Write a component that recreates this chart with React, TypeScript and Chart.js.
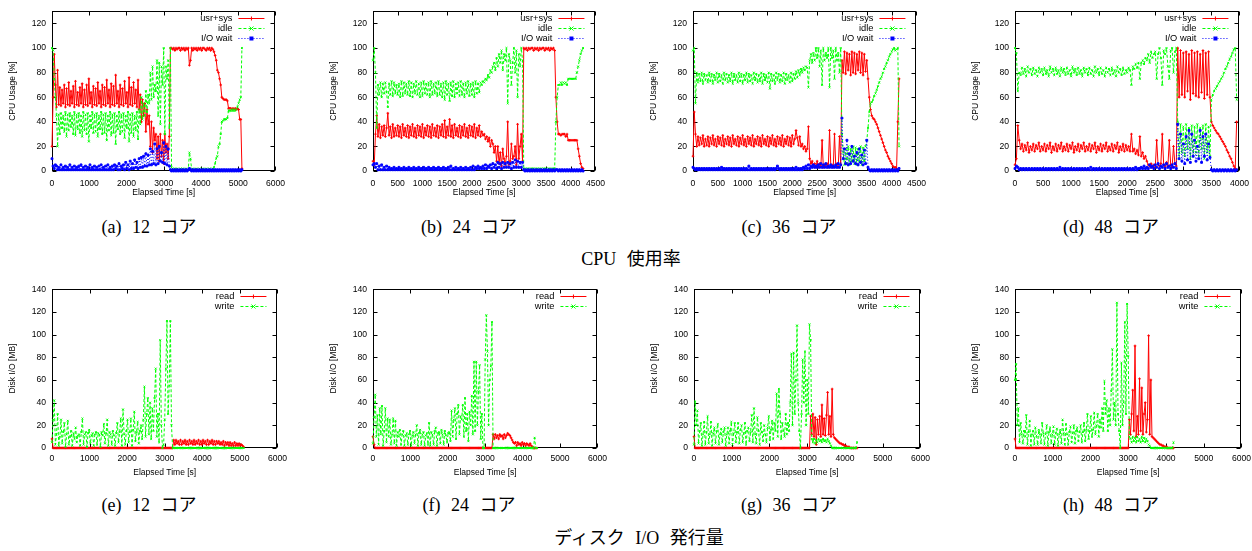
import React, { useEffect, useRef } from "react";
import { Chart, registerables } from "chart.js";

Chart.register(...registerables);

// ---------- (a) CPU usage, 12 cores, one sample every 30 s ----------
const STEP_A = 30;
const usrA = [
  20, 60, 95, 70, 52, 82, 54, 68, 53, 66,
  55, 70, 52, 67, 54, 72, 53, 65, 55, 69,
  52, 73, 54, 64, 53, 68, 55, 71, 52, 66,
  54, 70, 53, 75, 55, 64, 52, 69, 54, 67,
  53, 72, 55, 65, 52, 70, 54, 68, 53, 74,
  55, 66, 52, 71, 54, 69, 53, 78, 55, 65,
  52, 70, 54, 67, 53, 73, 55, 64, 52, 76,
  54, 68, 53, 72, 55, 66, 52, 74, 50, 62,
  40, 58, 45, 55, 32, 50, 38, 45, 20, 40,
  15, 35, 25, 30, 10, 28, 8, 30, 12, 25,
  6, 30, 15, 22, 10, 28, 100, 100, 99, 100,
  98, 100, 99, 100, 100, 98, 100, 99, 100, 98,
  100, 99, 100, 86, 90, 100, 98, 100, 99, 100,
  98, 100, 99, 100, 98, 100, 100, 99, 98, 100,
  99, 100, 98, 100, 99, 97, 94, 90, 82, 80,
  75, 70, 60, 59, 58, 58, 58, 57, 51, 51,
  51, 50, 51, 50, 51, 50, 51, 50, 42, 42,
  2,
];
const idleA = [
  100, 98, 75, 60, 45, 20, 46, 30, 47, 35,
  45, 32, 48, 28, 46, 33, 47, 36, 45, 30,
  48, 29, 46, 34, 47, 31, 45, 28, 48, 33,
  46, 30, 47, 24, 45, 35, 48, 31, 46, 32,
  47, 28, 45, 34, 48, 30, 46, 31, 47, 25,
  45, 33, 48, 29, 46, 31, 47, 22, 45, 34,
  48, 30, 46, 32, 47, 27, 45, 35, 48, 24,
  46, 31, 47, 28, 45, 33, 48, 26, 50, 38,
  60, 42, 55, 45, 65, 48, 62, 55, 80, 58,
  85, 60, 70, 65, 90, 45, 88, 38, 85, 70,
  100, 30, 85, 75, 90, 35, 100, 3, 2, 1,
  2, 1, 2, 1, 1, 2, 1, 2, 1, 1,
  2, 1, 1, 15, 10, 1, 2, 1, 1, 2,
  1, 1, 2, 1, 1, 2, 1, 1, 2, 1,
  1, 2, 1, 1, 2, 3, 6, 10, 12, 20,
  22, 30, 40, 41, 42, 42, 42, 43, 49, 49,
  49, 50, 49, 50, 49, 50, 52, 55, 58, 60,
  100,
];
const ioA = [
  10, 4, 2, 5, 4, 1, 3, 1, 5, 1,
  3, 1, 4, 1, 3, 1, 5, 1, 3, 1,
  4, 1, 3, 1, 4, 1, 5, 1, 3, 1,
  4, 1, 3, 1, 5, 1, 3, 1, 4, 1,
  3, 1, 4, 1, 5, 1, 3, 1, 4, 1,
  5, 1, 3, 1, 4, 1, 5, 2, 4, 1,
  6, 1, 4, 2, 5, 1, 7, 2, 5, 1,
  8, 2, 6, 2, 9, 3, 7, 2, 10, 3,
  11, 3, 12, 4, 14, 4, 13, 5, 18, 5,
  16, 6, 22, 5, 18, 6, 20, 8, 15, 7,
  23, 6, 20, 5, 18, 4, 1, 0, 1, 0,
  1, 0, 1, 0, 1, 0, 1, 0, 1, 0,
  1, 0, 1, 2, 1, 0, 1, 0, 1, 0,
  1, 0, 1, 0, 1, 0, 1, 0, 1, 0,
  1, 0, 1, 0, 1, 0, 1, 0, 1, 0,
  1, 0, 1, 0, 1, 0, 1, 0, 1, 0,
  1, 0, 1, 0, 1, 0, 1, 0, 1, 0,
  1,
];

// ---------- (b) CPU usage, 24 cores, every 25 s ----------
const STEP_B = 25;
const usrB = [
  8, 5, 30, 45, 28, 38, 27, 36, 29, 37,
  28, 35, 47, 29, 36, 27, 38, 28, 35, 29,
  37, 28, 36, 27, 38, 29, 35, 28, 37, 27,
  36, 29, 38, 28, 35, 27, 37, 29, 36, 28,
  38, 27, 35, 29, 37, 28, 36, 27, 38, 29,
  35, 28, 37, 27, 36, 29, 38, 28, 41, 27,
  36, 29, 42, 28, 37, 27, 38, 29, 35, 28,
  37, 27, 36, 29, 38, 28, 35, 27, 37, 29,
  36, 28, 38, 27, 35, 29, 37, 28, 32, 29,
  30, 26, 28, 24, 27, 20, 25, 22, 15, 20,
  8, 20, 6, 15, 4, 18, 10, 5, 12, 40,
  5, 8, 22, 10, 12, 20, 5, 38, 10, 20,
  30, 8, 100, 99, 100, 98, 100, 99, 100, 100,
  98, 100, 99, 100, 98, 100, 99, 100, 100, 98,
  100, 99, 100, 98, 100, 99, 100, 98, 60, 40,
  30, 30, 29, 30, 30, 30, 28, 30, 25, 25,
  25, 25, 25, 25, 25, 25, 18, 12, 6, 3,
  2,
];
const idleB = [
  90, 100, 80, 35, 70, 62, 72, 60, 71, 63,
  72, 64, 52, 71, 62, 73, 61, 72, 63, 70,
  62, 71, 60, 73, 61, 72, 63, 71, 62, 73,
  61, 72, 60, 71, 63, 73, 62, 71, 60, 72,
  61, 73, 63, 71, 62, 72, 60, 73, 62, 71,
  63, 72, 61, 73, 62, 71, 60, 72, 58, 73,
  62, 71, 57, 72, 61, 73, 60, 71, 63, 72,
  61, 73, 62, 71, 60, 72, 63, 73, 61, 71,
  62, 72, 60, 73, 63, 71, 64, 72, 70, 73,
  72, 75, 74, 78, 76, 82, 80, 85, 88, 82,
  92, 85, 95, 88, 98, 82, 95, 90, 100, 55,
  95, 90, 70, 88, 100, 80, 98, 60, 95, 85,
  100, 90, 2, 2, 1, 2, 2, 1, 2, 2,
  2, 1, 2, 2, 1, 2, 2, 1, 2, 2,
  2, 1, 2, 2, 1, 2, 2, 2, 40, 60,
  70, 70, 72, 70, 72, 71, 72, 70, 75, 75,
  75, 75, 75, 75, 75, 80, 85, 90, 95, 98,
  100,
];
const ioB = [
  5, 6, 3, 6, 1, 4, 1, 5, 1, 3,
  1, 4, 1, 3, 1, 2, 1, 3, 1, 2,
  1, 3, 1, 2, 1, 3, 1, 2, 1, 3,
  1, 2, 1, 3, 1, 2, 1, 3, 1, 2,
  1, 3, 1, 2, 1, 3, 1, 2, 1, 3,
  1, 2, 1, 3, 1, 2, 1, 3, 1, 2,
  1, 3, 1, 4, 1, 2, 1, 3, 1, 2,
  1, 3, 1, 2, 1, 3, 1, 2, 1, 3,
  1, 4, 1, 3, 2, 4, 2, 3, 2, 4,
  2, 5, 2, 4, 3, 5, 2, 6, 3, 5,
  2, 7, 3, 6, 2, 7, 3, 6, 3, 7,
  3, 6, 2, 7, 3, 9, 3, 8, 3, 7,
  3, 7, 1, 0, 1, 0, 1, 0, 1, 0,
  1, 0, 1, 0, 1, 0, 1, 0, 1, 0,
  1, 0, 1, 0, 1, 0, 1, 0, 1, 1,
  0, 1, 0, 1, 0, 1, 0, 1, 0, 1,
  0, 1, 0, 1, 0, 1, 0, 1, 0, 1,
  0,
];

// ---------- (c) CPU usage, 36 cores, every 25 s ----------
const STEP_C = 25;
const usrC = [
  12, 48, 30, 20, 28, 21, 27, 22, 29, 20,
  26, 21, 28, 20, 27, 22, 29, 21, 26, 20,
  28, 22, 27, 21, 29, 20, 26, 22, 28, 21,
  27, 20, 29, 22, 26, 21, 28, 20, 27, 22,
  29, 21, 26, 20, 28, 22, 27, 21, 29, 20,
  26, 22, 28, 21, 27, 20, 29, 22, 26, 21,
  28, 20, 27, 22, 29, 21, 26, 20, 28, 22,
  27, 21, 29, 20, 26, 22, 28, 21, 27, 20,
  29, 22, 26, 33, 27, 21, 28, 20, 22, 18,
  20, 16, 18, 36, 10, 6, 8, 4, 6, 3,
  8, 3, 6, 4, 25, 3, 5, 4, 6, 3,
  33, 4, 5, 3, 30, 4, 6, 3, 28, 5,
  90, 80, 97, 79, 96, 82, 95, 78, 97, 80,
  96, 79, 95, 82, 97, 80, 96, 78, 95, 81,
  90, 75, 60, 50, 45, 43, 42, 40, 38, 35,
  32, 29, 26, 23, 20, 17, 15, 12, 10, 8,
  6, 4, 3, 3, 2, 40, 75,
];
const idleC = [
  98, 100, 55, 80, 72, 79, 73, 80, 71, 79,
  74, 78, 72, 80, 73, 79, 71, 78, 74, 80,
  72, 79, 73, 78, 71, 80, 74, 79, 72, 78,
  73, 80, 71, 79, 74, 78, 72, 80, 73, 79,
  71, 78, 74, 80, 72, 79, 73, 78, 71, 80,
  74, 79, 72, 78, 73, 80, 71, 79, 74, 78,
  72, 80, 67, 79, 73, 78, 71, 80, 74, 79,
  72, 78, 73, 80, 71, 79, 74, 78, 72, 80,
  73, 79, 75, 81, 76, 82, 78, 83, 80, 84,
  82, 85, 84, 68, 90, 95, 88, 96, 90, 100,
  92, 100, 85, 98, 70, 100, 90, 96, 92, 100,
  68, 100, 92, 98, 75, 100, 90, 96, 80, 100,
  30, 15, 5, 18, 6, 20, 5, 18, 8, 20,
  6, 19, 5, 18, 7, 20, 5, 19, 8, 20,
  25, 35, 48, 55, 56, 58, 61, 63, 66, 69,
  72, 75, 77, 80, 83, 85, 88, 90, 93, 95,
  97, 99, 100, 98, 99, 100, 20,
];
const ioC = [
  3, 2, 1, 2, 1, 2, 1, 2, 1, 2,
  1, 2, 1, 2, 1, 2, 1, 2, 1, 2,
  1, 2, 1, 3, 1, 2, 1, 2, 1, 2,
  1, 2, 1, 2, 1, 2, 1, 2, 1, 2,
  1, 2, 1, 2, 1, 4, 1, 2, 1, 2,
  1, 2, 1, 2, 1, 2, 1, 2, 1, 2,
  1, 2, 1, 2, 1, 2, 1, 2, 4, 2,
  1, 2, 1, 2, 1, 2, 1, 2, 1, 2,
  1, 2, 1, 3, 1, 2, 1, 2, 1, 3,
  2, 4, 2, 5, 2, 4, 3, 5, 3, 4,
  3, 5, 3, 6, 3, 5, 3, 6, 3, 4,
  3, 5, 3, 4, 3, 5, 3, 6, 3, 5,
  43, 10, 18, 6, 25, 5, 14, 6, 20, 8,
  12, 6, 15, 5, 18, 7, 13, 5, 17, 6,
  25, 3, 1, 0, 1, 0, 1, 0, 1, 0,
  1, 0, 1, 0, 1, 0, 1, 0, 1, 0,
  1, 0, 1, 0, 1, 0, 2,
];

// ---------- (d) CPU usage, 48 cores, every 25 s ----------
const STEP_D = 25;
const usrD = [
  5, 10, 37, 25, 18, 22, 16, 21, 17, 23,
  15, 20, 17, 22, 16, 21, 18, 23, 16, 20,
  17, 22, 16, 21, 18, 23, 15, 20, 17, 22,
  16, 21, 18, 23, 16, 20, 17, 22, 16, 21,
  18, 23, 15, 20, 17, 22, 16, 21, 18, 23,
  16, 20, 17, 22, 16, 21, 18, 23, 15, 20,
  17, 22, 16, 21, 18, 23, 16, 20, 17, 22,
  16, 21, 18, 23, 15, 20, 17, 22, 16, 21,
  17, 20, 16, 30, 16, 18, 14, 17, 13, 28,
  12, 15, 10, 12, 8, 5, 4, 6, 3, 5,
  3, 25, 5, 4, 6, 30, 5, 3, 7, 4,
  25, 5, 3, 20, 6, 4, 100, 60, 98, 62,
  96, 60, 97, 65, 95, 58, 98, 63, 96, 61,
  97, 60, 95, 64, 98, 59, 96, 62, 97, 60,
  40, 37, 35, 33, 31, 30, 28, 26, 24, 22,
  20, 17, 15, 12, 10, 7, 4, 2, 40,
];
const idleD = [
  100, 96, 65, 80, 78, 84, 79, 83, 77, 85,
  80, 83, 78, 84, 79, 82, 77, 84, 80, 83,
  78, 84, 79, 82, 77, 85, 80, 83, 78, 84,
  79, 82, 77, 84, 80, 83, 78, 84, 79, 82,
  77, 85, 80, 83, 78, 84, 79, 82, 77, 84,
  80, 83, 78, 84, 79, 82, 77, 85, 80, 83,
  78, 84, 79, 82, 77, 84, 80, 83, 78, 84,
  79, 82, 77, 85, 80, 83, 78, 84, 79, 82,
  80, 84, 82, 70, 85, 83, 87, 84, 88, 75,
  88, 90, 87, 92, 90, 95, 88, 97, 92, 95,
  97, 75, 95, 100, 92, 70, 98, 95, 100, 85,
  75, 98, 100, 80, 97, 100, 40, 10, 38, 15,
  36, 12, 38, 18, 35, 10, 37, 12, 36, 15,
  38, 12, 35, 18, 37, 10, 38, 15, 36, 12,
  58, 62, 65, 67, 69, 71, 73, 75, 77, 80,
  83, 85, 88, 91, 93, 96, 99, 100, 58,
];
const ioD = [
  2, 4, 3, 1, 2, 1, 2, 1, 2, 1,
  2, 1, 2, 1, 2, 1, 2, 1, 2, 1,
  2, 1, 2, 1, 2, 1, 2, 1, 2, 1,
  2, 1, 3, 1, 2, 1, 2, 1, 2, 1,
  2, 1, 2, 1, 2, 1, 2, 1, 2, 1,
  2, 1, 2, 1, 3, 1, 2, 1, 2, 1,
  2, 1, 2, 1, 2, 1, 2, 1, 2, 1,
  2, 1, 2, 1, 2, 1, 2, 1, 2, 1,
  2, 1, 2, 1, 2, 1, 3, 1, 2, 2,
  3, 2, 4, 2, 3, 2, 5, 3, 4, 2,
  5, 3, 6, 2, 4, 3, 5, 2, 6, 3,
  4, 2, 5, 3, 6, 2, 38, 10, 30, 8,
  22, 6, 28, 9, 33, 7, 30, 12, 25, 8,
  20, 10, 33, 7, 28, 12, 30, 9, 22, 11,
  1, 0, 1, 0, 1, 0, 1, 0, 1, 0,
  1, 0, 1, 0, 1, 0, 1, 0, 1,
];

// ---------- (e) Disk I/O, 12 cores, every 30 s ----------
const STEP_E = 30;
const readE = [
  8, 0, 0, 0, 0, 0, 0, 0, 0, 0,
  0, 0, 0, 0, 0, 0, 0, 0, 0, 0,
  0, 0, 0, 0, 0, 0, 0, 0, 0, 0,
  0, 0, 0, 0, 0, 0, 0, 0, 0, 0,
  0, 0, 0, 0, 0, 0, 0, 0, 0, 0,
  0, 0, 0, 0, 0, 0, 0, 0, 0, 0,
  0, 0, 0, 0, 0, 0, 0, 0, 0, 0,
  0, 0, 0, 0, 0, 0, 0, 0, 0, 0,
  0, 0, 0, 0, 0, 0, 0, 0, 0, 0,
  0, 0, 0, 0, 0, 0, 0, 0, 0, 0,
  0, 0, 0, 0, 0, 0, 0, 0, 7, 3,
  7, 4, 6, 3, 7, 3, 6, 4, 7, 3,
  6, 3, 7, 4, 6, 3, 7, 3, 6, 4,
  7, 3, 6, 3, 7, 4, 6, 3, 7, 3,
  6, 4, 7, 3, 6, 3, 6, 4, 6, 3,
  5, 3, 6, 2, 5, 3, 5, 2, 5, 2,
  4, 2, 5, 2, 4, 2, 4, 2, 3, 2,
  1,
];
const writeE = [
  5, 25, 42, 3, 12, 30, 2, 10, 25, 4,
  14, 22, 1, 12, 24, 3, 10, 15, 2, 13,
  8, 18, 5, 11, 12, 2, 14, 26, 3, 12,
  14, 1, 13, 16, 4, 11, 13, 2, 12, 14,
  3, 13, 12, 1, 14, 11, 21, 4, 13, 25,
  2, 14, 12, 3, 15, 11, 2, 13, 22, 5,
  14, 26, 2, 34, 12, 3, 15, 25, 5, 14,
  26, 2, 16, 32, 6, 14, 23, 4, 15, 20,
  8, 25, 54, 10, 30, 44, 12, 40, 8, 35,
  15, 44, 70, 10, 30, 5, 95, 20, 0, 3,
  25, 70, 112, 30, 55, 112, 20, 0, 0, 0,
  0, 0, 0, 0, 0, 0, 0, 0, 0, 0,
  0, 0, 0, 0, 0, 0, 0, 0, 0, 0,
  0, 0, 0, 0, 0, 0, 0, 0, 0, 0,
  0, 0, 0, 0, 0, 0, 0, 0, 0, 0,
  0, 0, 0, 0, 0, 0, 0, 0, 0, 0,
  0, 0, 0, 0, 0, 0, 0, 0, 0, 0,
  0,
];

// ---------- (f) Disk I/O, 24 cores, every 30 s ----------
const STEP_F = 30;
const readF = [
  10, 3, 0, 0, 0, 0, 0, 0, 0, 0,
  0, 0, 0, 0, 0, 0, 0, 0, 0, 0,
  0, 0, 0, 0, 0, 0, 0, 0, 0, 0,
  0, 0, 0, 0, 0, 0, 0, 0, 0, 0,
  0, 0, 0, 0, 0, 0, 0, 0, 0, 0,
  0, 0, 0, 0, 0, 0, 0, 0, 0, 0,
  0, 0, 0, 0, 0, 0, 0, 0, 0, 0,
  0, 0, 0, 0, 0, 0, 0, 0, 0, 0,
  0, 0, 0, 0, 0, 0, 0, 0, 0, 0,
  0, 0, 0, 0, 0, 0, 0, 0, 0, 0,
  0, 0, 0, 0, 0, 0, 0, 12, 8, 12,
  9, 11, 8, 12, 10, 11, 8, 12, 9, 11,
  13, 12, 11, 9, 7, 5, 4, 5, 2, 5,
  3, 4, 2, 5, 3, 4, 2, 4, 3, 2,
  4, 2, 1, 0, 0, 0, 0,
];
const writeF = [
  4, 27, 47, 10, 29, 3, 35, 12, 37, 2,
  15, 35, 5, 26, 10, 25, 3, 12, 26, 4,
  24, 2, 14, 10, 16, 3, 12, 15, 2, 11,
  13, 3, 12, 15, 2, 11, 14, 4, 12, 20,
  2, 13, 16, 3, 12, 14, 2, 11, 13, 3,
  22, 2, 14, 12, 3, 15, 18, 2, 13, 14,
  4, 16, 12, 3, 15, 11, 5, 13, 14, 6,
  33, 10, 25, 35, 8, 30, 38, 12, 28, 25,
  38, 10, 44, 15, 30, 6, 32, 20, 46, 12,
  76, 15, 76, 20, 50, 73, 8, 30, 0, 0,
  78, 117, 85, 20, 60, 72, 111, 0, 0, 0,
  0, 0, 0, 0, 0, 0, 0, 0, 0, 0,
  0, 0, 0, 0, 0, 0, 0, 0, 0, 0,
  0, 0, 0, 0, 0, 0, 0, 0, 0, 0,
  0, 0, 0, 0, 9, 0, 0,
];

// ---------- (g) Disk I/O, 36 cores, every 30 s ----------
const STEP_G = 30;
const readG = [
  10, 0, 0, 0, 0, 0, 0, 0, 0, 0,
  0, 0, 0, 0, 0, 0, 0, 0, 0, 0,
  0, 0, 0, 0, 0, 0, 0, 0, 0, 0,
  0, 0, 0, 0, 0, 0, 0, 0, 0, 0,
  0, 0, 0, 0, 0, 0, 0, 0, 0, 0,
  0, 0, 0, 0, 0, 0, 0, 0, 0, 0,
  0, 0, 0, 0, 0, 0, 0, 0, 0, 0,
  0, 0, 0, 0, 0, 0, 0, 0, 0, 0,
  0, 0, 0, 0, 0, 0, 0, 0, 0, 0,
  0, 0, 0, 0, 0, 0, 0, 0, 0, 0,
  0, 0, 0, 28, 12, 30, 10, 27, 3, 25,
  12, 28, 10, 38, 12, 26, 11, 29, 49, 12,
  28, 10, 52, 12, 9, 8, 7, 6, 5, 4,
  4, 3, 3, 2, 2, 1, 1, 1, 0, 0,
  0, 0, 0, 0, 0,
];
const writeG = [
  3, 41, 20, 33, 4, 15, 22, 2, 12, 23,
  3, 14, 28, 4, 12, 23, 2, 13, 18, 4,
  15, 21, 3, 12, 17, 5, 14, 18, 2, 12,
  18, 4, 15, 23, 3, 13, 22, 5, 14, 22,
  4, 16, 20, 5, 13, 22, 3, 15, 18, 6,
  14, 29, 5, 35, 12, 4, 27, 15, 3, 22,
  14, 6, 20, 12, 5, 18, 28, 7, 16, 24,
  8, 22, 15, 48, 10, 52, 30, 8, 22, 15,
  10, 30, 12, 22, 15, 40, 83, 20, 84, 30,
  60, 108, 40, 15, 0, 30, 78, 40, 85, 20,
  60, 30, 109, 95, 8, 5, 8, 4, 7, 5,
  8, 6, 7, 5, 8, 6, 7, 5, 8, 6,
  4, 2, 0, 0, 0, 0, 0, 0, 0, 0,
  0, 0, 0, 0, 0, 0, 0, 0, 0, 0,
  0, 0, 0, 0, 5,
];

// ---------- (h) Disk I/O, 48 cores, every 30 s ----------
const STEP_H = 30;
const readH = [
  8, 0, 0, 0, 0, 0, 0, 0, 0, 0,
  0, 0, 0, 0, 0, 0, 0, 0, 0, 0,
  0, 0, 0, 0, 0, 0, 0, 0, 0, 0,
  0, 0, 0, 0, 0, 0, 0, 0, 0, 0,
  0, 0, 0, 0, 0, 0, 0, 0, 0, 0,
  0, 0, 0, 0, 0, 0, 0, 0, 0, 0,
  0, 0, 0, 0, 0, 0, 0, 0, 0, 0,
  0, 0, 0, 0, 0, 0, 0, 0, 0, 0,
  0, 0, 0, 0, 0, 0, 0, 0, 0, 0,
  0, 0, 0, 0, 0, 0, 0, 0, 0, 0,
  0, 25, 12, 30, 51, 15, 90, 10, 28, 12,
  61, 15, 53, 12, 30, 40, 14, 25, 99, 12,
  60, 10, 9, 8, 7, 6, 5, 4, 3, 3,
  2, 2, 1, 1, 1, 0, 0, 0, 0, 0,
  0,
];
const writeH = [
  60, 74, 20, 35, 5, 22, 12, 4, 15, 10,
  29, 3, 14, 24, 2, 12, 15, 3, 18, 11,
  3, 16, 12, 4, 22, 13, 3, 12, 20, 2,
  14, 18, 4, 12, 19, 3, 13, 17, 2, 12,
  16, 4, 25, 13, 3, 21, 12, 3, 14, 19,
  5, 13, 20, 4, 15, 18, 6, 14, 20, 5,
  14, 22, 6, 16, 30, 8, 15, 28, 10, 16,
  31, 12, 20, 30, 10, 25, 18, 35, 15, 59,
  30, 42, 15, 35, 20, 50, 87, 25, 40, 20,
  128, 30, 15, 0, 75, 20, 40, 111, 30, 127,
  81, 10, 8, 5, 10, 6, 9, 5, 10, 6,
  8, 5, 10, 6, 9, 5, 8, 6, 3, 2,
  0, 0, 0, 0, 0, 0, 0, 0, 0, 0,
  0, 0, 0, 0, 0, 0, 0, 0, 0, 0,
  5,
];

// ---------- labels ----------
const CPU_LEGEND = ["usr+sys", "idle", "I/O wait"];
const DISK_LEGEND = ["read", "write"];
const CPU_Y_TITLE = "CPU Usage [%]";
const DISK_Y_TITLE = "Disk I/O [MB]";
const X_TITLE = "Elapsed Time [s]";
const TOP_CAPTIONS = ["(a) 12 コア", "(b) 24 コア", "(c) 36 コア", "(d) 48 コア"];
const BOTTOM_CAPTIONS = ["(e) 12 コア", "(f) 24 コア", "(g) 36 コア", "(h) 48 コア"];
const TOP_GROUP = "CPU 使用率";
const BOTTOM_GROUP = "ディスク I/O 発行量";

type Kind = "red" | "green" | "blue";
const KIND: Record<Kind, { color: string; dash: number[]; point: string; order: number }> = {
  red: { color: "#ff0000", dash: [], point: "cross", order: 3 },
  green: { color: "#00ff00", dash: [3, 2], point: "crossRot", order: 2 },
  blue: { color: "#0000ff", dash: [1, 2], point: "rect", order: 1 },
};

type SeriesDef = { label: string; values: number[]; kind: Kind };
type Panel = {
  L: number; R: number; T: number; B: number;
  xMax: number; xStep: number; yMax: number; yStep: number;
  yTitle: string; step: number; labelPad: number; titleGap: number;
  series: SeriesDef[];
};

const cpu = (u: number[], i: number[], w: number[]): SeriesDef[] => [
  { label: CPU_LEGEND[0], values: u, kind: "red" },
  { label: CPU_LEGEND[1], values: i, kind: "green" },
  { label: CPU_LEGEND[2], values: w, kind: "blue" },
];
const disk = (r: number[], w: number[]): SeriesDef[] => [
  { label: DISK_LEGEND[0], values: r, kind: "red" },
  { label: DISK_LEGEND[1], values: w, kind: "green" },
];

const TOP = { T: 10, B: 171, yMax: 130, yTitle: CPU_Y_TITLE, labelPad: 7, titleGap: 22 };
const BOT = { T: 288, B: 448, yMax: 140, yTitle: DISK_Y_TITLE, labelPad: 5, titleGap: 25 };

const PANELS: Panel[] = [
  { ...TOP, L: 52, R: 278, xMax: 6000, xStep: 1000, yStep: 20, step: STEP_A, series: cpu(usrA, idleA, ioA) },
  { ...TOP, L: 373, R: 598, xMax: 4500, xStep: 500, yStep: 20, step: STEP_B, series: cpu(usrB, idleB, ioB) },
  { ...TOP, L: 693, R: 919, xMax: 4500, xStep: 500, yStep: 20, step: STEP_C, series: cpu(usrC, idleC, ioC) },
  { ...TOP, L: 1015, R: 1242, xMax: 4000, xStep: 500, yStep: 20, step: STEP_D, series: cpu(usrD, idleD, ioD) },
  { ...BOT, L: 52, R: 278, xMax: 6000, xStep: 1000, yStep: 20, step: STEP_E, series: disk(readE, writeE) },
  { ...BOT, L: 373, R: 598, xMax: 6000, xStep: 1000, yStep: 20, step: STEP_F, series: disk(readF, writeF) },
  { ...BOT, L: 694, R: 921, xMax: 6000, xStep: 1000, yStep: 20, step: STEP_G, series: disk(readG, writeG) },
  { ...BOT, L: 1015, R: 1242, xMax: 6000, xStep: 1000, yStep: 20, step: STEP_H, series: disk(readH, writeH) },
];

const CAPTION_X = [149, 469, 789, 1111];

const SANS = '"Liberation Sans", Arial, sans-serif';
const Y_AXIS_W = 52;
const X_AXIS_H = 32;
const PAD_TOP = 10;
const PAD_RIGHT = 14;

function drawMarker(ctx: CanvasRenderingContext2D, kind: Kind, x: number, y: number) {
  const c = KIND[kind].color;
  ctx.save();
  ctx.setLineDash([]);
  ctx.strokeStyle = c;
  ctx.fillStyle = c;
  ctx.lineWidth = 1;
  const r = 2;
  ctx.beginPath();
  if (kind === "red") {
    ctx.moveTo(x - r, y); ctx.lineTo(x + r, y);
    ctx.moveTo(x, y - r); ctx.lineTo(x, y + r);
    ctx.stroke();
  } else if (kind === "green") {
    ctx.moveTo(x - r, y - r); ctx.lineTo(x + r, y + r);
    ctx.moveTo(x - r, y + r); ctx.lineTo(x + r, y - r);
    ctx.stroke();
  } else {
    ctx.fillRect(x - r, y - r, 2 * r, 2 * r);
  }
  ctx.restore();
}

function PanelChart({ p }: { p: Panel }) {
  const ref = useRef<HTMLCanvasElement>(null);
  const w = p.R - p.L + Y_AXIS_W + PAD_RIGHT;
  const h = p.B - p.T + PAD_TOP + X_AXIS_H;

  useEffect(() => {
    const canvas = ref.current;
    if (!canvas) return;

    const framePlugin = {
      id: "gnuframe",
      beforeDatasetsDraw(chart: any) {
        const { ctx, chartArea: a, scales } = chart;
        ctx.save();
        ctx.strokeStyle = "#000";
        ctx.lineWidth = 1;
        ctx.setLineDash([]);
        const l = Math.round(a.left) + 0.5;
        const r = Math.round(a.right) - 0.5;
        const t = Math.round(a.top) + 0.5;
        const b = Math.round(a.bottom) - 0.5;
        ctx.strokeRect(l, t, r - l, b - t);
        const tl = 4;
        ctx.beginPath();
        scales.x.ticks.forEach((tk: any) => {
          const x = Math.round(scales.x.getPixelForValue(tk.value)) + 0.5;
          ctx.moveTo(x, b); ctx.lineTo(x, b - tl);
          ctx.moveTo(x, t); ctx.lineTo(x, t + tl);
        });
        scales.y.ticks.forEach((tk: any) => {
          const y = Math.round(scales.y.getPixelForValue(tk.value)) + 0.5;
          ctx.moveTo(l, y); ctx.lineTo(l + tl, y);
          ctx.moveTo(r, y); ctx.lineTo(r - tl, y);
        });
        ctx.stroke();

        ctx.fillStyle = "#000";
        ctx.font = `8.5px ${SANS}`;
        ctx.textAlign = "center";
        ctx.textBaseline = "middle";
        ctx.fillText(X_TITLE, (a.left + a.right) / 2, a.bottom + p.titleGap);
        ctx.save();
        ctx.translate(a.left - 39, (a.top + a.bottom) / 2);
        ctx.rotate(-Math.PI / 2);
        ctx.fillText(p.yTitle, 0, 0);
        ctx.restore();
        ctx.restore();
      },
      afterDatasetsDraw(chart: any) {
        const { ctx, chartArea: a } = chart;
        ctx.save();
        ctx.font = `9.3px ${SANS}`;
        ctx.textAlign = "right";
        ctx.textBaseline = "middle";
        p.series.forEach((s, k) => {
          const y = Math.round(a.top + 7 + k * 10) + 0.5;
          ctx.fillStyle = "#000";
          ctx.fillText(s.label, a.right - 43, y);
          ctx.strokeStyle = KIND[s.kind].color;
          ctx.lineWidth = 1;
          ctx.setLineDash(KIND[s.kind].dash);
          ctx.beginPath();
          ctx.moveTo(a.right - 37, y);
          ctx.lineTo(a.right - 11, y);
          ctx.stroke();
          drawMarker(ctx, s.kind, a.right - 24, y);
        });
        ctx.restore();
      },
    };

    const datasets = p.series.map((s) => {
      const k = KIND[s.kind];
      return {
        label: s.label,
        data: s.values.map((v, i) => ({ x: i * p.step, y: v })),
        borderColor: k.color,
        backgroundColor: k.color,
        borderWidth: 1,
        borderDash: k.dash,
        pointStyle: k.point,
        pointRadius: 1.3,
        pointBorderWidth: 1,
        pointBorderColor: k.color,
        pointBackgroundColor: k.color,
        tension: 0,
        order: k.order,
        clip: 3,
        fill: false,
      };
    });

    const tickFont = { family: SANS, size: 8.6 };
    const plain = (v: any) => String(v);

    const chart = new Chart(canvas, {
      type: "line",
      data: { datasets } as any,
      options: {
        animation: false,
        responsive: false,
        maintainAspectRatio: false,
        devicePixelRatio: 1,
        events: [],
        layout: { padding: { top: PAD_TOP, right: PAD_RIGHT, left: 0, bottom: 0 } },
        plugins: { legend: { display: false }, tooltip: { enabled: false } },
        scales: {
          x: {
            type: "linear",
            min: 0,
            max: p.xMax,
            afterFit: (s: any) => { s.height = X_AXIS_H; },
            grid: { display: false, drawTicks: false },
            border: { display: false },
            ticks: {
              stepSize: p.xStep,
              autoSkip: false,
              maxRotation: 0,
              includeBounds: false,
              padding: p.labelPad,
              color: "#000",
              font: tickFont,
              callback: plain,
            },
          },
          y: {
            type: "linear",
            min: 0,
            max: p.yMax,
            afterFit: (s: any) => { s.width = Y_AXIS_W; },
            grid: { display: false, drawTicks: false },
            border: { display: false },
            ticks: {
              stepSize: p.yStep,
              autoSkip: false,
              includeBounds: false,
              padding: 6,
              color: "#000",
              font: tickFont,
              callback: plain,
            },
          },
        },
      } as any,
      plugins: [framePlugin],
    });
    return () => chart.destroy();
  }, [p]);

  return (
    <canvas
      ref={ref}
      width={w}
      height={h}
      style={{ position: "absolute", left: p.L - Y_AXIS_W, top: p.T - PAD_TOP, width: w, height: h }}
    />
  );
}

const captionStyle = (x: number, y: number): React.CSSProperties => ({
  position: "absolute",
  left: x,
  top: y,
  transform: "translate(-50%, -50%)",
  whiteSpace: "nowrap",
  fontFamily: '"Liberation Serif", "Noto Sans CJK JP", serif',
  fontSize: 18,
  wordSpacing: 6,
  color: "#000",
  lineHeight: 1,
});

export default function App() {
  return (
    <div
      style={{
        position: "fixed",
        left: 0,
        top: 0,
        width: 1252,
        height: 551,
        overflow: "hidden",
        background: "#fff",
      }}
    >
      {PANELS.map((p, i) => (
        <PanelChart key={i} p={p} />
      ))}
      {TOP_CAPTIONS.map((c, i) => (
        <div key={"t" + i} style={captionStyle(CAPTION_X[i], 227)}>{c}</div>
      ))}
      <div style={captionStyle(631, 259)}>{TOP_GROUP}</div>
      {BOTTOM_CAPTIONS.map((c, i) => (
        <div key={"b" + i} style={captionStyle(CAPTION_X[i], 505)}>{c}</div>
      ))}
      <div style={captionStyle(639, 538)}>{BOTTOM_GROUP}</div>
    </div>
  );
}
